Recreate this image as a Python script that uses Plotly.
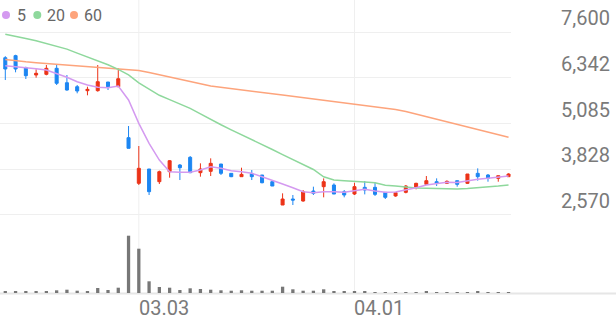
import plotly.graph_objects as go

dates = ["02.09", "02.10", "02.15", "02.16", "02.17", "02.18", "02.19", "02.22", "02.23", "02.24",
         "02.25", "02.26", "03.02", "03.03", "03.04", "03.05", "03.08", "03.09", "03.10", "03.11",
         "03.12", "03.15", "03.16", "03.17", "03.18", "03.19", "03.22", "03.23", "03.24", "03.25",
         "03.26", "03.29", "03.30", "03.31", "04.01", "04.02", "04.05", "04.06", "04.07", "04.08",
         "04.09", "04.12", "04.13", "04.14", "04.15", "04.16", "04.19", "04.20", "04.21", "04.22"]

open_ = [6893, 6950, 6619, 6418, 6437, 6602, 6206, 6096, 5987, 5987,
         6225, 6096, 4695, 3441, 3834, 3485, 3760, 3944, 4155, 3733,
         3770, 3971, 3715, 3623, 3706, 3669, 3485, 2844, 3009, 2954,
         3229, 3348, 3394, 3210, 3146, 3330, 3330, 3192, 3092, 3192,
         3330, 3412, 3485, 3440, 3513, 3440, 3715, 3669, 3577, 3623]
high = [6935, 6975, 6646, 6575, 6693, 6712, 6418, 6143, 6096, 6693,
        6225, 6602, 5016, 4466, 3834, 3790, 4081, 3971, 4191, 3990,
        4127, 3971, 3715, 3870, 3806, 3669, 3504, 3165, 3119, 3256,
        3348, 3577, 3440, 3256, 3457, 3504, 3467, 3192, 3192, 3394,
        3457, 3641, 3577, 3522, 3513, 3696, 3852, 3696, 3650, 3715]
low = [6280, 6492, 6308, 6344, 6410, 6143, 5987, 5915, 5860, 5960,
       6005, 6096, 4403, 3394, 3119, 3421, 3595, 3531, 3720, 3623,
       3641, 3669, 3610, 3623, 3531, 3440, 3366, 2844, 2844, 2935,
       3119, 3055, 3146, 3055, 3119, 3137, 3092, 3009, 3073, 3165,
       3275, 3412, 3366, 3421, 3348, 3421, 3513, 3485, 3485, 3623]
close = [6583, 6583, 6399, 6465, 6602, 6190, 6005, 5978, 6024, 6234,
         6096, 6316, 4403, 3853, 3210, 3760, 4062, 3870, 3733, 3834,
         3990, 3715, 3623, 3687, 3623, 3457, 3366, 3009, 2980, 3210,
         3165, 3485, 3146, 3119, 3348, 3256, 3137, 3055, 3183, 3366,
         3440, 3513, 3440, 3494, 3412, 3696, 3623, 3577, 3650, 3696]

ma5 = [6674, 6650, 6630, 6590, 6555, 6465, 6355, 6234, 6143, 6080,
       6069, 6116, 5731, 5090, 4540, 4081, 3760, 3743, 3743, 3806,
       3897, 3853, 3787, 3760, 3715, 3623, 3531, 3421, 3320, 3210,
       3183, 3210, 3210, 3193, 3238, 3275, 3229, 3193, 3200, 3256,
       3320, 3394, 3421, 3468, 3460, 3513, 3550, 3578, 3605, 3641]
ma20 = [7540, 7490, 7420, 7360, 7290, 7220, 7130, 7020, 6920, 6810,
        6700, 6575, 6420, 6200, 6020, 5860, 5740, 5620, 5500, 5350,
        5195, 5050, 4910, 4780, 4640, 4500, 4370, 4230, 4090, 3950,
        3820, 3620, 3530, 3510, 3500, 3480, 3455, 3390, 3370, 3335,
        3315, 3305, 3295, 3285, 3285, 3300, 3318, 3340, 3365, 3394]
ma60 = [6847, 6808, 6781, 6756, 6734, 6712, 6693, 6674, 6654, 6635,
        6616, 6594, 6566, 6541, 6487, 6429, 6371, 6308, 6242, 6179,
        6116, 6077, 6044, 6008, 5973, 5937, 5901, 5866, 5830, 5794,
        5758, 5722, 5687, 5651, 5615, 5580, 5544, 5508, 5472, 5415,
        5346, 5274, 5203, 5131, 5063, 4991, 4920, 4848, 4780, 4708]

volume = [34000, 34000, 26000, 26000, 40000, 54000, 66000, 46000, 34000, 100000,
          60000, 106000, 1146000, 886000, 234000, 120000, 106000, 60000, 94000, 80000,
          66000, 54000, 46000, 54000, 46000, 46000, 46000, 126000, 74000, 46000,
          46000, 74000, 40000, 26000, 34000, 26000, 20000, 14000, 14000, 14000,
          14000, 26000, 14000, 6000, 20000, 20000, 34000, 20000, 20000, 6000]

price_ticks = [2570, 3827.5, 5085, 6342.5, 7600]
price_tick_text = ["2,570", "3,828", "5,085", "6,342", "7,600"]
x_tick_labels = ["03.03", "04.01"]
legend_labels = ["5", "20", "60"]

UP = "#ec3318"
DOWN = "#1c86f2"
MA_COLORS = ["#d49af0", "#8ed89c", "#fda47c"]
W, H = 616, 321

fig = go.Figure()
fig.add_trace(go.Candlestick(
    x=dates, open=open_, high=high, low=low, close=close,
    increasing=dict(line=dict(color=UP, width=1), fillcolor=UP),
    decreasing=dict(line=dict(color=DOWN, width=1), fillcolor=DOWN),
    whiskerwidth=0, xaxis="x", yaxis="y", showlegend=False, hoverinfo="skip"))
for vals, col in zip([ma60, ma20, ma5], [MA_COLORS[2], MA_COLORS[1], MA_COLORS[0]]):
    fig.add_trace(go.Scatter(x=dates, y=vals, mode="lines",
                             line=dict(color=col, width=1.5),
                             xaxis="x", yaxis="y", showlegend=False, hoverinfo="skip"))
fig.add_trace(go.Bar(x=dates, y=volume, marker=dict(color="#777777", line=dict(width=0)),
                     width=0.32, xaxis="x2", yaxis="y2", showlegend=False, hoverinfo="skip"))

xr = [-0.516, 49.24]
xdom = [0, 511 / W]
price_dom = [1 - 218 / H, 1]
vol_dom = [1 - 293 / H, 1 - 220 / H]

fig.update_layout(
    width=W, height=H, margin=dict(l=0, r=0, t=0, b=0),
    paper_bgcolor="white", plot_bgcolor="white",
    boxgap=0.58,
    xaxis=dict(type="category", domain=xdom, range=xr, showgrid=False, showticklabels=False,
               zeroline=False, showline=False, rangeslider=dict(visible=False), fixedrange=True),
    yaxis=dict(domain=price_dom, range=[2487, 8480], tickvals=price_ticks, showticklabels=False,
               showgrid=True, gridcolor="#efefef", gridwidth=1, zeroline=False, showline=False),
    xaxis2=dict(type="category", domain=xdom, range=xr, anchor="y2", matches="x",
                showgrid=False, showticklabels=False, zeroline=False, showline=False),
    yaxis2=dict(domain=vol_dom, range=[0, 1460000], anchor="x2", showgrid=False,
                showticklabels=False, zeroline=False, showline=False),
)

shapes = []
for d in x_tick_labels:
    xi = dates.index(d)
    shapes.append(dict(type="line", xref="x", yref="paper", x0=xi, x1=xi,
                       y0=1 - 293 / H, y1=1, line=dict(color="#efefef", width=1), layer="below"))
shapes.append(dict(type="line", xref="paper", yref="paper", x0=0, x1=1,
                   y0=1 - 293.5 / H, y1=1 - 293.5 / H, line=dict(color="#e6e6e6", width=2), layer="below"))
# legend dots
dot_x = [6, 37.3, 74]
for cx, col in zip(dot_x, MA_COLORS):
    r = 4.0
    shapes.append(dict(type="circle", xref="paper", yref="paper",
                       x0=(cx - r) / W, x1=(cx + r) / W, y0=1 - (15 + r) / H, y1=1 - (15 - r) / H,
                       fillcolor=col, line=dict(width=0)))
fig.update_layout(shapes=shapes)

anns = []
for v, t in zip(price_ticks, price_tick_text):
    anns.append(dict(x=612 / W, xref="paper", y=v, yref="y", text=t, showarrow=False,
                     xanchor="right", yanchor="middle", yshift=14,
                     font=dict(family="Roboto", size=20, color="#7a7a7a")))
for d in x_tick_labels:
    anns.append(dict(x=dates.index(d), xref="x", y=1 - 308 / H, yref="paper", text=d, showarrow=False,
                     xanchor="left", yanchor="middle", xshift=-2,
                     font=dict(family="Roboto", size=20, color="#7a7a7a")))
for tx, t in zip([16, 46, 83], legend_labels):
    anns.append(dict(x=tx / W, xref="paper", y=1 - 15 / H, yref="paper", text=t, showarrow=False,
                     xanchor="left", yanchor="middle", xshift=-1,
                     font=dict(family="Roboto", size=16, color="#666666")))
fig.update_layout(annotations=anns)

fig.write_html("out.html")
